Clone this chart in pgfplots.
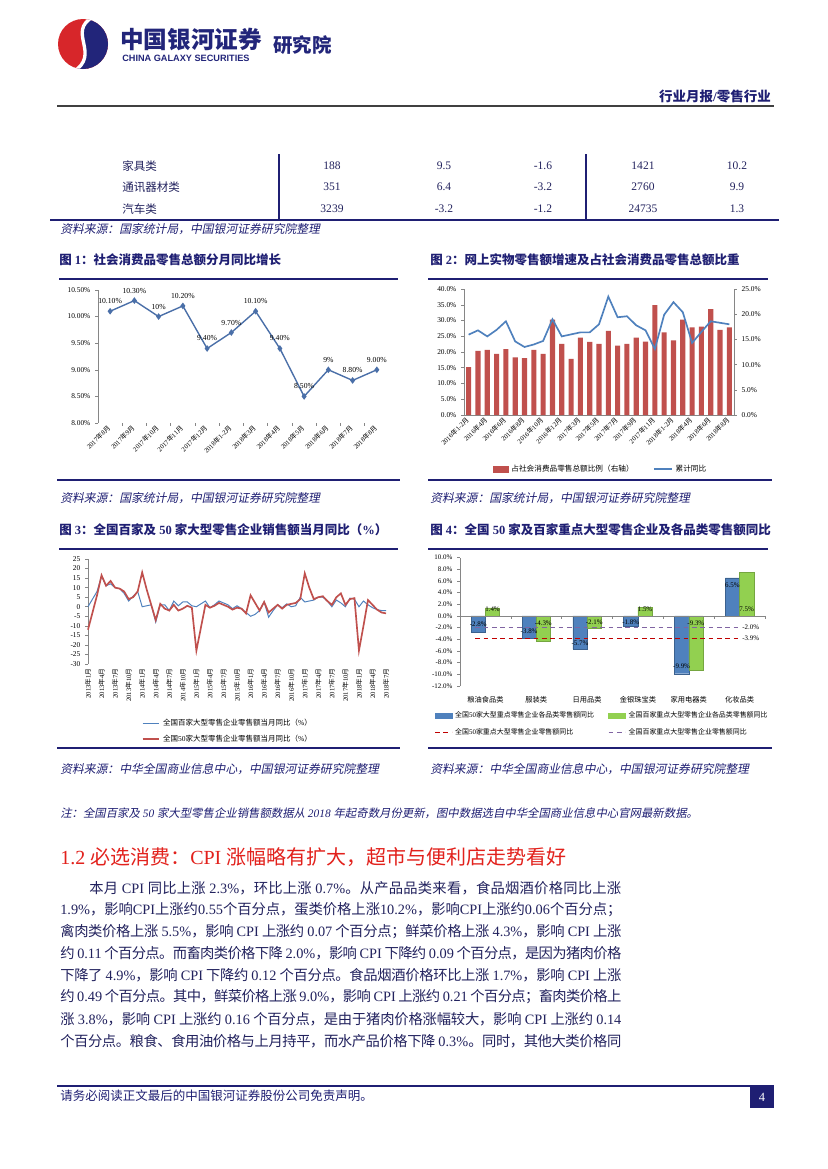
\documentclass[border=0pt]{standalone}
\usepackage{pgfplots}
\pgfplotsset{compat=1.18}
\usepackage{fontspec}
\setmainfont{Liberation Serif}
\newfontfamily\cjkfam{Noto Sans CJK SC}[ItalicFont={Noto Sans CJK SC}, ItalicFeatures={FakeSlant=0.2}]
\newfontfamily\lsans{Liberation Sans}
% automatic font switching between Latin and CJK
\XeTeXinterchartokenstate=1
\newXeTeXintercharclass\CJKcls
\newcount\cjkc
\def\setcjkrange#1#2{\cjkc=#1\relax\loop\ifnum\cjkc<#2\relax\XeTeXcharclass\cjkc=\CJKcls\relax\advance\cjkc by 1\relax\repeat}
\setcjkrange{"3000}{"3040}
\setcjkrange{"4E00}{"A000}
\setcjkrange{"FF00}{"FFF0}
\XeTeXinterchartoks 0 \CJKcls = {\cjkfam}
\XeTeXinterchartoks 4095 \CJKcls = {\cjkfam}
\XeTeXinterchartoks \CJKcls 0 = {\rmfamily}
\XeTeXinterchartoks \CJKcls 4095 = {\rmfamily}
\XeTeXinterchartoks \CJKcls \CJKcls = {\hskip 0pt plus 2pt minus 0.6pt\relax}

\definecolor{navy}{HTML}{1F1F73}
\definecolor{txt}{HTML}{22225E}
\definecolor{hred}{HTML}{E2211C}
\definecolor{c1}{HTML}{4A6FA8}
\definecolor{cblue}{HTML}{4F81BD}
\definecolor{cred}{HTML}{C0504D}
\definecolor{cgreen}{HTML}{92D050}
\definecolor{cdred}{HTML}{C00000}
\definecolor{cpurple}{HTML}{8064A2}
\definecolor{axgray}{HTML}{868686}
\definecolor{lgred}{HTML}{D7262A}
\definecolor{lgblue}{HTML}{22257A}

\pgfplotsset{
  pg/.style={scale only axis, clip=false,
    axis line style={draw=axgray, line width=0.4pt},
    tick style={draw=axgray, line width=0.4pt},
    tick align=outside, major tick length=2pt, minor tick length=2pt,
    /pgf/number format/assume math mode=true,
    ticklabel style={text=black},
    yticklabel style={font=\fontsize{5.3}{6}\selectfont},
    xticklabel style={font=\fontsize{4.8}{5.5}\selectfont},
  }
}
\tikzset{t/.style={anchor=west, inner sep=0pt, text=txt}}
\newcommand\jl[2]{\makebox[#1][s]{#2}}

\begin{document}
\begin{tikzpicture}[x=0.72pt,y=-0.72pt]
\path[use as bounding box, fill=white] (0,0) rectangle (827,1169);

% ---------------- header ----------------
\begin{scope}
\clip (83,44) circle [radius=25];
\fill[lgred] (50,10) rectangle (115,80);
\fill[lgblue] (93,17) .. controls (66,32) and (102,54) .. (73,72) -- (115,80) -- (115,10) -- cycle;
\draw[white, line width=2.4pt] (93,17) .. controls (66,32) and (102,54) .. (73,72);
\end{scope}
\node[anchor=west, inner sep=0pt, text=lgblue, font=\fontsize{17}{17}\selectfont\bfseries] at (120,39) {中国银河证券};
\node[anchor=west, inner sep=0pt, text=lgblue, font=\lsans\fontsize{6.6}{7}\selectfont\bfseries] at (122,58) {CHINA GALAXY SECURITIES};
\node[anchor=west, inner sep=0pt, text=lgblue, font=\fontsize{14}{14}\selectfont\bfseries] at (273,45) {研究院};
\node[anchor=east, inner sep=0pt, text=navy, font=\fontsize{9.7}{10}\selectfont\bfseries] at (771,96) {行业月报/零售行业};
\draw[line width=1.8pt, color=black!75] (57,106) -- (774,106);

% ---------------- table tail ----------------
\begin{scope}[every node/.style={inner sep=0pt, text=txt, font=\fontsize{8.3}{9}\selectfont}]
\node[anchor=west] at (122,166) {家具类};
\node[anchor=west] at (122,187) {通讯器材类};
\node[anchor=west] at (122,209) {汽车类};
\node at (332,166) {188};  \node at (444,166) {9.5};  \node at (543,166) {-1.6}; \node at (643,166) {1421};  \node at (737,166) {10.2};
\node at (332,187) {351};  \node at (444,187) {6.4};  \node at (543,187) {-3.2}; \node at (643,187) {2760};  \node at (737,187) {9.9};
\node at (332,209) {3239}; \node at (444,209) {-3.2}; \node at (543,209) {-1.2}; \node at (643,209) {24735}; \node at (737,209) {1.3};
\end{scope}
\draw[navy, line width=0.8pt] (279,154) -- (279,219) (586,154) -- (586,219);
\draw[navy, line width=1.4pt] (50,220) -- (779,220);
\node[t, text=navy, font=\fontsize{8.5}{9}\selectfont\itshape] at (60,229) {资料来源：国家统计局，中国银河证券研究院整理};

% ---------------- chart titles / rules ----------------
\begin{scope}[every node/.style={t, text=navy, font=\fontsize{9}{10}\selectfont\bfseries}]
\node at (59,260) {图 1：社会消费品零售总额分月同比增长};
\node at (430,260) {图 2：网上实物零售额增速及占社会消费品零售总额比重};
\node at (59,530) {图 3：全国百家及 50 家大型零售企业销售额当月同比（\%）};
\node at (430,530) {图 4：全国 50 家及百家重点大型零售企业及各品类零售额同比};
\end{scope}
\draw[navy, line width=1.4pt] (59,279) -- (398,279) (428,279) -- (768,279);
\draw[navy, line width=1.4pt] (59,549) -- (398,549) (428,549) -- (768,549);
\draw[navy, line width=1.1pt] (57,480) -- (400,480) (428,480) -- (772,480);
\draw[navy, line width=1.1pt] (57,748) -- (400,748) (428,748) -- (772,748);
\begin{scope}[every node/.style={t, text=navy, font=\fontsize{8.5}{9}\selectfont\itshape}]
\node at (60,498) {资料来源：国家统计局，中国银河证券研究院整理};
\node at (430,498) {资料来源：国家统计局，中国银河证券研究院整理};
\node at (60,769) {资料来源：中华全国商业信息中心，中国银河证券研究院整理};
\node at (430,769) {资料来源：中华全国商业信息中心，中国银河证券研究院整理};
\end{scope}

% ---------------- chart 1 ----------------
\begin{axis}[pg, at={(70.56pt,-304.56pt)}, anchor=south west, width=209.5pt, height=95.8pt,
  xmin=-0.5, xmax=11.5, ymin=8, ymax=10.5,
  axis y line*=left, axis x line*=bottom, x axis line style={draw=none},
  ytick={8,8.5,9,9.5,10,10.5},
  yticklabel={\pgfmathprintnumber[fixed,fixed zerofill,precision=2]{\tick}\%},
  xtick={0,...,11},
  xticklabels={2017年8月,2017年9月,2017年10月,2017年11月,2017年12月,2018年1-2月,2018年3月,2018年4月,2018年5月,2018年6月,2018年7月,2018年8月},
  minor xtick={0.5,1.5,...,10.5},
  major x tick style={draw=none},
  xticklabel style={rotate=45, anchor=east, inner sep=1pt}]
\addplot[c1, line width=1pt, mark=diamond*, mark size=1.6pt, mark options={fill=c1},
  nodes near coords, point meta=explicit symbolic,
  every node near coord/.append style={font=\fontsize{5.5}{6}\selectfont, text=black, yshift=1.5pt}]
  coordinates {(0,10.1)[10.10\%] (1,10.3)[10.30\%] (2,10.0)[10\%] (3,10.2)[10.20\%] (4,9.4)[9.40\%] (5,9.7)[9.70\%]
               (6,10.1)[10.10\%] (7,9.4)[9.40\%] (8,8.5)[8.50\%] (9,9.0)[9\%] (10,8.8)[8.80\%] (11,9.0)[9.00\%]};
\end{axis}

% ---------------- chart 2 ----------------
\begin{axis}[pg, at={(334.08pt,-298.8pt)}, anchor=south west, width=194.4pt, height=90.7pt,
  xmin=-0.5, xmax=28.5, ymin=0, ymax=40, ytick={0,5,...,40},
  axis y line*=left, axis x line*=bottom,
  yticklabel={\pgfmathprintnumber[fixed,fixed zerofill,precision=1]{\tick}\%},
  xtick={0,2,...,28},
  xticklabels={2016年1-2月,2016年4月,2016年6月,2016年8月,2016年10月,2016年12月,2017年3月,2017年5月,2017年7月,2017年9月,2017年11月,2018年1-2月,2018年4月,2018年6月,2018年8月},
  major x tick style={draw=none},
  xticklabel style={rotate=45, anchor=east, inner sep=1pt}]
\addplot[ybar, bar width=0.55, fill=cred, draw=none] coordinates {
 (0,15.2) (1,20.4) (2,20.7) (3,19.4) (4,20.9) (5,18.3) (6,18.1) (7,20.7) (8,19.4) (9,30.3)
 (10,22.6) (11,17.8) (12,24.6) (13,23.2) (14,22.6) (15,26.7) (16,22.0) (17,22.6) (18,24.6) (19,23.3)
 (20,34.9) (21,26.2) (22,23.7) (23,30.3) (24,27.8) (25,28.1) (26,33.6) (27,27.0) (28,27.8)};
\end{axis}
\begin{axis}[pg, at={(334.08pt,-298.8pt)}, anchor=south west, width=194.4pt, height=90.7pt,
  xmin=-0.5, xmax=28.5, ymin=0, ymax=25, ytick={0,5,...,25},
  axis y line*=right, axis x line=none,
  yticklabel={\pgfmathprintnumber[fixed,fixed zerofill,precision=1]{\tick}\%},
  legend columns=2, legend cell align=left,
  legend style={draw=none, fill=none, at={(0.507,-0.43)}, anchor=center,
    font=\fontsize{5.5}{6}\selectfont, /tikz/every even column/.append style={column sep=12pt}}]
\addlegendimage{legend image code/.code={\fill[cred] (0pt,-2pt) rectangle (11pt,2pt);}}
\addlegendentry{占社会消费品零售总额比例（右轴）}
\addplot[cblue, line width=1.2pt, legend image code/.code={\draw[cblue, line width=1.2pt] (0pt,0pt) -- (13pt,0pt);}] coordinates {
 (0,15.95) (1,16.8) (2,15.6) (3,16.9) (4,18.6) (5,14.6) (6,13.5) (7,14.0) (8,14.7) (9,19.0)
 (10,15.6) (11,16.0) (12,16.4) (13,16.4) (14,18.0) (15,23.5) (16,19.4) (17,19.6) (18,17.8) (19,16.8)
 (20,13.1) (21,19.9) (22,22.4) (23,20.4) (24,14.3) (25,16.5) (26,18.6) (27,18.3) (28,18.0)};
\addlegendentry{累计同比}
\end{axis}

% ---------------- chart 3 ----------------
\begin{axis}[pg, at={(63.36pt,-478.08pt)}, anchor=south west, width=214.6pt, height=75.6pt,
  xmin=0, xmax=66, ymin=-30, ymax=25, ytick={-30,-25,...,25},
  axis y line*=left, axis x line*=bottom, x axis line style={draw=none},
  xtick={0,3,...,66},
  xticklabels={2013年1月,2013年4月,2013年7月,2013年10月,2014年1月,2014年4月,2014年7月,2014年10月,2015年1月,2015年4月,2015年7月,2015年10月,2016年1月,2016年4月,2016年7月,2016年10月,2017年1月,2017年4月,2017年7月,2017年10月,2018年1月,2018年4月,2018年7月},
  major x tick style={draw=none},
  xticklabel style={rotate=90, anchor=east, inner sep=1pt},
  legend cell align=left,
  legend style={draw=none, fill=none, at={(0.47,-0.64)}, anchor=center,
    font=\fontsize{5.4}{6}\selectfont, row sep=1pt}]
\addplot[cblue, line width=0.7pt, legend image code/.code={\draw[cblue, line width=0.7pt] (0pt,0pt) -- (12pt,0pt);}] coordinates {
 (0,0) (1,4) (2,8) (3,16) (4,11) (5,12) (6,10) (7,9.5) (8,7) (9,3)
 (10,5.5) (11,8) (12,0) (13,0.5) (14,1) (15,-8) (16,1) (17,1) (18,-2) (19,3)
 (20,0.5) (21,2.5) (22,2.5) (23,0.5) (24,0) (25,1.5) (26,3) (27,-0.5) (28,1) (29,3)
 (30,2) (31,1) (32,-1) (33,0.5) (34,-1) (35,-3) (36,-5) (37,-4) (38,-2) (39,2.5)
 (40,-5.5) (41,-2) (42,1) (43,-0.5) (44,1.5) (45,0) (46,0.5) (47,5) (48,2.5) (49,3)
 (50,3.5) (51,5) (52,5) (53,3) (54,0) (55,3.5) (56,2) (57,0) (58,4.5) (59,4)
 (60,0) (61,3) (62,1) (63,-0.5) (64,-1.5) (65,-2) (66,-2)};
\addlegendentry{全国百家大型零售企业零售额当月同比（\%）}
\addplot[cred, line width=1.2pt, legend image code/.code={\draw[cred, line width=1.6pt] (0pt,0pt) -- (12pt,0pt);}] coordinates {
 (0,-12) (1,-3) (2,6) (3,16.5) (4,11) (5,13.5) (6,10) (7,9.5) (8,8) (9,4)
 (10,5) (11,8) (12,18) (13,9) (14,1) (15,-7) (16,1.5) (17,-1) (18,-2) (19,1)
 (20,-2) (21,-1) (22,0.5) (23,-0.5) (24,-23) (25,-11) (26,1) (27,-0.5) (28,0.5) (29,2)
 (30,1) (31,0) (32,-1.5) (33,-0.5) (34,-1) (35,-3.5) (36,6) (37,2) (38,-2) (39,2.5)
 (40,-3) (41,-1) (42,1) (43,-1) (44,1) (45,1.5) (46,2) (47,4) (48,17.5) (49,10)
 (50,4) (51,5) (52,5.5) (53,3) (54,1) (55,5) (56,7) (57,1) (58,4) (59,4.5)
 (60,-23) (61,-10) (62,3.5) (63,1) (64,-1.5) (65,-3) (66,-3.5)};
\addlegendentry{全国50家大型零售企业零售额当月同比（\%）}
\end{axis}

% ---------------- chart 4 ----------------
\begin{axis}[pg, at={(331.2pt,-493.92pt)}, anchor=south west, width=219.6pt, height=92.5pt,
  xmin=-0.5, xmax=5.5, ymin=-12, ymax=10, ytick={-12,-10,...,10},
  axis y line*=left, axis x line*=bottom, x axis line style={draw=none},
  yticklabel={\pgfmathprintnumber[fixed,fixed zerofill,precision=1]{\tick}\%},
  yticklabel style={font=\fontsize{5}{6}\selectfont},
  xtick={0,...,5},
  xticklabels={粮油食品类,服装类,日用品类,金银珠宝类,家用电器类,化妆品类},
  major x tick style={draw=none},
  xticklabel style={font=\fontsize{5.2}{6}\selectfont, yshift=-2pt},
  legend columns=2, legend cell align=left,
  legend style={draw=none, fill=none, at={(0.467,-0.296)}, anchor=center,
    font=\fontsize{5}{6}\selectfont, row sep=2pt, /tikz/every even column/.append style={column sep=8pt}}]
\addplot[ybar, bar width=0.28, bar shift=-0.14, fill=cblue, draw=cblue!75!black, line width=0.3pt,
  legend image code/.code={\fill[cblue] (0pt,-2pt) rectangle (12pt,2pt);}]
  coordinates {(0,-2.8) (1,-3.8) (2,-5.7) (3,-1.8) (4,-9.9) (5,6.5)};
\addlegendentry{全国50家大型重点零售企业各品类零售额同比}
\addplot[ybar, bar width=0.28, bar shift=0.14, fill=cgreen, draw=cgreen!80!black, line width=0.3pt,
  legend image code/.code={\fill[cgreen] (0pt,-2pt) rectangle (12pt,2pt);}]
  coordinates {(0,1.4) (1,-4.3) (2,-2.1) (3,1.5) (4,-9.3) (5,7.5)};
\addlegendentry{全国百家重点大型零售企业各品类零售额同比}
\addplot[cdred, line width=0.9pt, dash pattern=on 3.5pt off 2.5pt,
  legend image code/.code={\draw[cdred, line width=0.9pt, dash pattern=on 3.5pt off 2.5pt] (0pt,0pt) -- (12pt,0pt);}]
  coordinates {(-0.2,-3.9) (5,-3.9)};
\addlegendentry{全国50家重点大型零售企业零售额同比}
\addplot[cpurple, line width=0.9pt, dash pattern=on 3.5pt off 2.5pt,
  legend image code/.code={\draw[cpurple, line width=0.9pt, dash pattern=on 3.5pt off 2.5pt] (0pt,0pt) -- (12pt,0pt);}]
  coordinates {(-0.2,-2.0) (5,-2.0)};
\addlegendentry{全国百家重点大型零售企业零售额同比}
\draw[axgray, line width=0.4pt] (axis cs:-0.5,0) -- (axis cs:5.5,0);
\draw[axgray, line width=0.4pt] (axis cs:0.5,0) -- ++(0pt,-2pt) (axis cs:1.5,0) -- ++(0pt,-2pt)
  (axis cs:2.5,0) -- ++(0pt,-2pt) (axis cs:3.5,0) -- ++(0pt,-2pt) (axis cs:4.5,0) -- ++(0pt,-2pt) (axis cs:5.5,0) -- ++(0pt,-2pt);
\begin{scope}[every node/.style={font=\fontsize{5}{6}\selectfont, text=black, inner sep=0pt}]
\node at (axis cs:-0.14,-1.45) {-2.8\%};
\node at (axis cs:0.14,1.2) {1.4\%};
\node at (axis cs:0.86,-2.7) {-3.8\%};
\node at (axis cs:1.14,-1.2) {-4.3\%};
\node at (axis cs:1.86,-4.7) {-5.7\%};
\node at (axis cs:2.14,-1.15) {-2.1\%};
\node at (axis cs:2.86,-1.1) {-1.8\%};
\node at (axis cs:3.14,1.2) {1.5\%};
\node at (axis cs:3.86,-8.7) {-9.9\%};
\node at (axis cs:4.14,-1.2) {-9.3\%};
\node at (axis cs:4.86,5.3) {6.5\%};
\node at (axis cs:5.14,1.1) {7.5\%};
\node at (axis cs:5.22,-2.0) {-2.0\%};
\node at (axis cs:5.22,-3.9) {-3.9\%};
\end{scope}
\end{axis}

% ---------------- note, heading, body ----------------
\node[t, text=navy, font=\fontsize{8.2}{9}\selectfont\itshape] at (60,813) {注：全国百家及 50 家大型零售企业销售额数据从 2018 年起奇数月份更新，图中数据选自中华全国商业信息中心官网最新数据。};
\node[t, text=hred, font=\fontsize{14.4}{15}\selectfont] at (60,857) {1.2 必选消费：CPI 涨幅略有扩大，超市与便利店走势看好};
\begin{scope}[every node/.style={t, font=\fontsize{10.3}{12}\selectfont}]
\node at (89,888) {\jl{383pt}{本月 CPI 同比上涨 2.3\%，环比上涨 0.7\%。从产品品类来看，食品烟酒价格同比上涨}};
\node at (60,910) {\jl{404pt}{1.9\%，影响CPI上涨约0.55个百分点，蛋类价格上涨10.2\%，影响CPI上涨约0.06个百分点；}};
\node at (60,932) {\jl{404pt}{禽肉类价格上涨 5.5\%，影响 CPI 上涨约 0.07 个百分点；鲜菜价格上涨 4.3\%，影响 CPI 上涨}};
\node at (60,953) {\jl{404pt}{约 0.11 个百分点。而畜肉类价格下降 2.0\%，影响 CPI 下降约 0.09 个百分点，是因为猪肉价格}};
\node at (60,975) {\jl{404pt}{下降了 4.9\%，影响 CPI 下降约 0.12 个百分点。食品烟酒价格环比上涨 1.7\%，影响 CPI 上涨}};
\node at (60,997) {\jl{404pt}{约 0.49 个百分点。其中，鲜菜价格上涨 9.0\%，影响 CPI 上涨约 0.21 个百分点；畜肉类价格上}};
\node at (60,1019) {\jl{404pt}{涨 3.8\%，影响 CPI 上涨约 0.16 个百分点，是由于猪肉价格涨幅较大，影响 CPI 上涨约 0.14}};
\node at (60,1041) {\jl{404pt}{个百分点。粮食、食用油价格与上月持平，而水产品价格下降 0.3\%。同时，其他大类价格同}};
\end{scope}

% ---------------- footer ----------------
\draw[navy, line width=1.1pt] (57,1086) -- (750,1086);
\fill[navy] (750,1085) rectangle (774,1108);
\node[text=white, font=\fontsize{9}{10}\selectfont, inner sep=0pt] at (762,1097) {4};
\node[t, text=navy, font=\fontsize{9}{10}\selectfont] at (60,1096) {请务必阅读正文最后的中国银河证券股份公司免责声明。};
\end{tikzpicture}
\end{document}
